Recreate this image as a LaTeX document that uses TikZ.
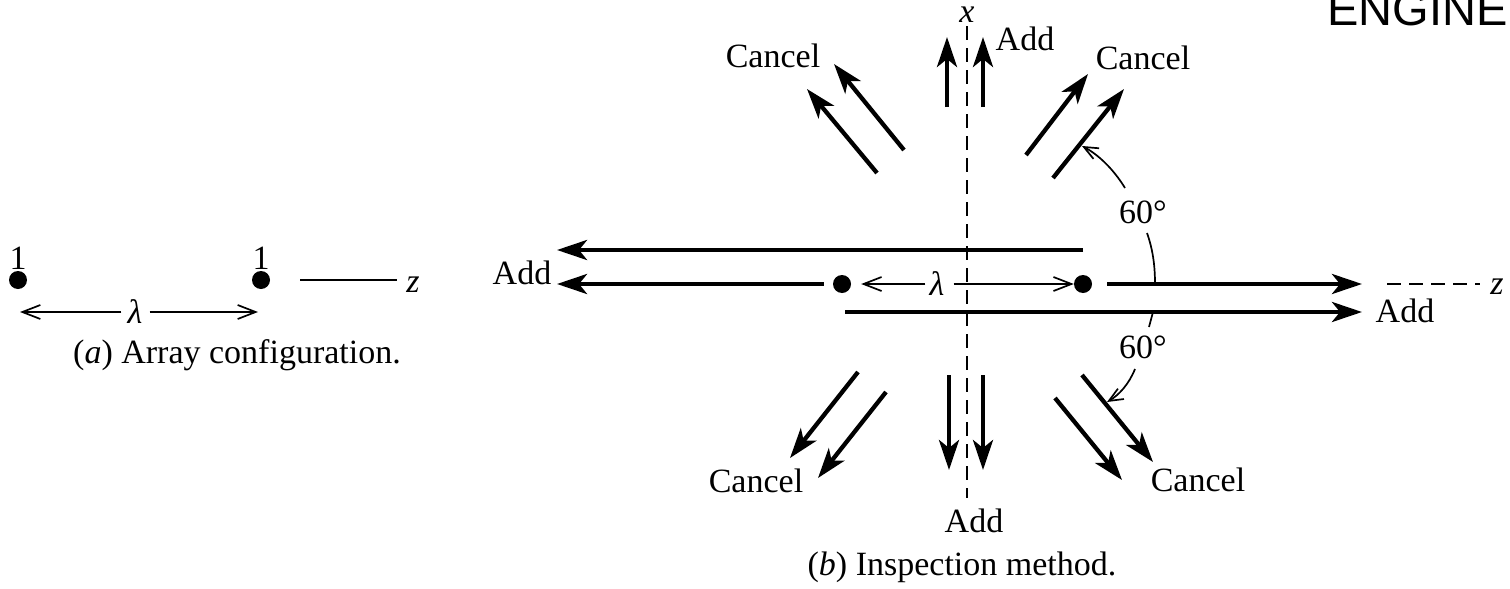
\documentclass[tikz,border=0pt]{standalone}
\usepackage{fontspec}
\setmainfont{Liberation Serif}
\newfontfamily\markfont{Liberation Sans}
\usetikzlibrary{arrows.meta}
\begin{document}
\begin{tikzpicture}[x=1pt,y=-1pt,
  lbl/.style={font=\fontsize{34}{40}\selectfont, inner sep=0pt},
  ilbl/.style={font=\fontsize{34}{40}\selectfont\itshape, inner sep=0pt},
  dot/.style={circle, fill=black, minimum size=18pt, inner sep=0pt},
  beam/.style={line width=4.3pt, -{Stealth[length=30pt,width=20pt,inset=8pt]}},
  thinline/.style={line width=1.7pt},
  dim/.style={line width=1.7pt, -{Straight Barb[length=18pt,width=14pt]}},
  pointer/.style={line width=1.7pt, -{Straight Barb[length=14pt,width=12pt]}},
  axis/.style={line width=1.9pt, dash pattern=on 14pt off 8pt},
]
\useasboundingbox (0,0) rectangle (1510,589);
\clip (0,0) rectangle (1510,589);

% corner mark
\node[font=\markfont\fontsize{47}{50}\selectfont, inner sep=0pt, anchor=base east] (mark) at (1508,25) {ENGINE};

% ---------- (a) array configuration ----------
\node[dot] (a1) at (18,280) {};
\node[dot] (a2) at (261,280) {};
\node[lbl] (a1n) at (18,258) {1};
\node[lbl] (a2n) at (261,258) {1};
\coordinate (za0) at (300,280);
\coordinate (za1) at (397,280);
\node[ilbl] (zal) at (413,285) {z};
\draw[thinline] (za0) -- (za1);
\node[ilbl] (lama) at (135,312) {λ};
\coordinate (la) at (20,312);
\coordinate (ra) at (258,312);
\draw[dim] ([xshift=-6pt]lama.west) -- (la);
\draw[dim] ([xshift=7pt]lama.east) -- (ra);
\node[lbl] (capa) at (237,355) {(\textit{a}) Array configuration.};

% ---------- (b) inspection method ----------
\node[dot] (b1) at (842,284) {};
\node[dot] (b2) at (1083,284) {};

% x axis
\node[ilbl] (xl) at (967,15) {x};
\coordinate (xb) at (967,498);
\draw[axis] (967,26) -- (xb);

% z axis continuation
\coordinate (zb0) at (1387,284);
\coordinate (zb1) at (1480,284);
\node[ilbl] (zbl) at (1497,287) {z};
\draw[axis] (zb0) -- (zb1);

% spacing between the elements
\node[ilbl] (lamb) at (937,284) {λ};
\draw[dim, shorten >=10pt] ([xshift=-4pt]lamb.west) -- (b1);
\draw[dim] ([xshift=9pt]lamb.east) -- (b2);

% endfire beams
\coordinate (tl0) at (1083,250);
\coordinate (tl1) at (557,250);
\coordinate (ml1) at (557,284);
\coordinate (mr1) at (1362,284);
\coordinate (bl0) at (845,312);
\coordinate (bl1) at (1362,312);
\draw[beam] (tl0) -- (tl1);
\draw[beam] ([xshift=-9pt]b1.west) -- (ml1);
\draw[beam] ([xshift=15pt]b2.east) -- (mr1);
\draw[beam] (bl0) -- (bl1);
\node[lbl] (addl) at (522,273) {Add};
\node[lbl] (addr) at (1405,311) {Add};

% broadside beams
\coordinate (u1a) at (947,107); \coordinate (u1b) at (947,37);
\coordinate (u2a) at (983,107); \coordinate (u2b) at (983,37);
\draw[beam] (u1a) -- (u1b);
\draw[beam] (u2a) -- (u2b);
\node[lbl] (addt) at (1025,39) {Add};
\coordinate (d1a) at (949,375); \coordinate (d1b) at (949,470);
\coordinate (d2a) at (983,375); \coordinate (d2b) at (983,470);
\draw[beam] (d1a) -- (d1b);
\draw[beam] (d2a) -- (d2b);
\node[lbl] (addb) at (974,521) {Add};

% oblique beams
\coordinate (ul1a) at (877,173); \coordinate (ul1b) at (807,89);
\coordinate (ul2a) at (904,150); \coordinate (ul2b) at (834,64);
\draw[beam] (ul1a) -- (ul1b);
\draw[beam] (ul2a) -- (ul2b);
\node[lbl] (cul) at (773,56) {Cancel};

\coordinate (ur1a) at (1026,155); \coordinate (ur1b) at (1088,74);
\coordinate (ur2a) at (1053,178); \coordinate (ur2b) at (1124,89);
\draw[beam] (ur1a) -- (ur1b);
\draw[beam] (ur2a) -- (ur2b);
\node[lbl] (cur) at (1143,58) {Cancel};

\coordinate (ll1a) at (858,372); \coordinate (ll1b) at (790,458);
\coordinate (ll2a) at (886,392); \coordinate (ll2b) at (818,478);
\draw[beam] (ll1a) -- (ll1b);
\draw[beam] (ll2a) -- (ll2b);
\node[lbl] (cll) at (756,481) {Cancel};

\coordinate (lr1a) at (1055,398); \coordinate (lr1b) at (1122,480);
\coordinate (lr2a) at (1082,375); \coordinate (lr2b) at (1153,462);
\draw[beam] (lr1a) -- (lr1b);
\draw[beam] (lr2a) -- (lr2b);
\node[lbl] (clr) at (1198,480) {Cancel};

% 60 degree markers
\node[lbl] (ang1) at (1143,212) {60°};
\coordinate (ang1base) at (1155,284);
\coordinate (ang1tip) at (1082,146);
\draw[thinline] (1147,233) .. controls (1153,250) and (1155,266) .. (ang1base);
\draw[pointer] (1125,188) .. controls (1114,170) and (1099,155) .. (ang1tip);

\node[lbl] (ang2) at (1143,347) {60°};
\coordinate (ang2base) at (1153,312);
\coordinate (ang2tip) at (1107,402);
\draw[thinline] (ang2base) -- (1149,327);
\draw[pointer] (1135,369) .. controls (1129,384) and (1119,395) .. (ang2tip);

\node[lbl] (capb) at (962,567) {(\textit{b}) Inspection method.};
\end{tikzpicture}
\end{document}
